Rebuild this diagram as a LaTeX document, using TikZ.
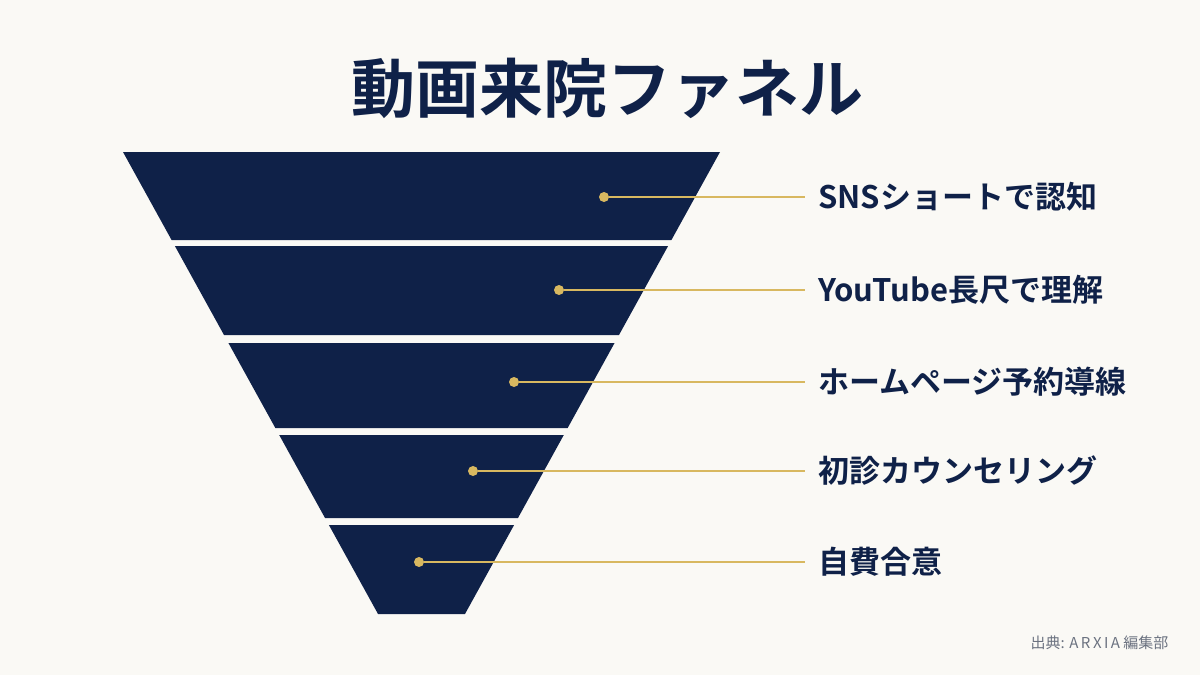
\documentclass[tikz,border=0pt]{standalone}
\usepackage{fontspec}
\newfontfamily\jp{Noto Sans CJK JP Bold}
\newfontfamily\jpr{Noto Sans CJK JP}
\definecolor{bg}{HTML}{FAF9F5}
\definecolor{navy}{HTML}{0F2148}
\definecolor{gold}{HTML}{D8B860}
\definecolor{src}{HTML}{6B7280}
\begin{document}
\begin{tikzpicture}[x=1pt,y=-1pt,
  band/.style={fill=navy,draw=none},
  dot/.style={circle,fill=gold,inner sep=0pt,minimum size=10pt},
  lead/.style={draw=gold,line width=1.2pt},
  lab/.style={anchor=west,font=\jp\fontsize{31}{34}\selectfont,text=navy,inner sep=0pt}]
\useasboundingbox[fill=bg] (0,0) rectangle (1200,675);
\node[font=\jp\fontsize{64}{70}\selectfont,text=navy] (title) at (607,88) {動画来院ファネル};
\foreach \t/\b/\i in {152/240/1,246/335/2,343/428/3,435/518/4,525/614/5}{
  \pgfmathsetmacro\lt{123+0.552*(\t-152)}
  \pgfmathsetmacro\rt{720-0.552*(\t-152)}
  \pgfmathsetmacro\lb{123+0.552*(\b-152)}
  \pgfmathsetmacro\rb{720-0.552*(\b-152)}
  \fill[band] (\lt,\t) -- (\rt,\t) -- (\rb,\b) -- (\lb,\b) -- cycle;
}
\foreach \x/\y/\n/\txt in {604/197/a/SNSショートで認知,559/290/b/YouTube長尺で理解,514/382/c/ホームページ予約導線,473/471/d/初診カウンセリング,419/562/e/自費合意}{
  \node[dot] (d\n) at (\x,\y) {};
  \coordinate (e\n) at (805,\y);
  \node[lab] (l\n) at (818,\y) {\txt};
  \draw[lead] (d\n) -- (e\n);
}
\node[anchor=east,font=\jpr\fontsize{15}{17}\selectfont,text=src] (source) at (1172,643) {出典: A\,R\,X\,I\,A 編集部};
\end{tikzpicture}
\end{document}
